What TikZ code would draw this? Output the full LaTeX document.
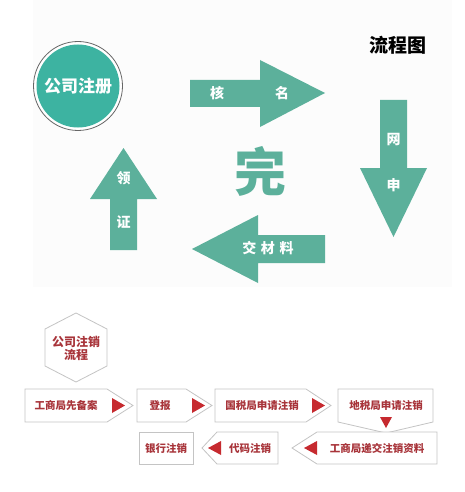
\documentclass[tikz,border=0pt]{standalone}
\usepackage{fontspec}
\newfontfamily\cjk{Noto Sans CJK SC}
\definecolor{teal1}{HTML}{3DB3A1}
\definecolor{teal2}{HTML}{5CB09B}
\definecolor{redtxt}{HTML}{A8343A}
\definecolor{redtri}{HTML}{C62A2F}
\definecolor{boxline}{HTML}{C4C4C4}
\tikzset{
  arr/.style={fill=teal2},
  wtxt/.style={text=white,font=\cjk\bfseries\fontsize{14}{14}\selectfont,inner sep=0pt},
  step box/.style={draw=boxline,line width=0.8pt,fill=white},
  rtxt/.style={text=redtxt,font=\cjk\bfseries\fontsize{10.5}{12}\selectfont,inner sep=0pt},
  tri/.style={fill=redtri}
}
\begin{document}
\begin{tikzpicture}[x=1pt,y=-1pt]
\useasboundingbox (0,0) rectangle (465,492);
\fill[white] (0,0) rectangle (465,492);
\fill[black!1] (33,0) rectangle (452,287);

% registration cycle
\fill[white] (78,86) circle (44.5);
\draw[black!60,line width=0.8pt] (78,86) circle (44.5);
\fill[teal1] (78,86) circle (41.5);
\node[wtxt,font=\cjk\bfseries\fontsize{17}{17}\selectfont] (zc) at (78,86) {公司注册};
\node[font=\cjk\bfseries\fontsize{19}{19}\selectfont] (title) at (398,45) {流程图};

\fill[arr] (190,80) -- (260,80) -- (260,60) -- (325,93) -- (260,127) -- (260,107) -- (190,107) -- cycle;
\node[wtxt] (he) at (217,93) {核};
\node[wtxt] (ming) at (282,93) {名};

\fill[arr] (380,100) -- (407,100) -- (407,168) -- (427,168) -- (393.5,237) -- (360,168) -- (380,168) -- cycle;
\node[wtxt] (wang) at (393.5,140) {网};
\node[wtxt] (shen) at (393.5,185) {申};

\fill[arr] (325,235) -- (258,235) -- (258,215) -- (192,249) -- (258,283) -- (258,263) -- (325,263) -- cycle;
\node[wtxt] (jcl) at (268,248) {交\,\,材\,\,料};

\fill[arr] (110,250) -- (110,199) -- (90,199) -- (123.5,148) -- (157,199) -- (137,199) -- (137,250) -- cycle;
\node[wtxt] (ling) at (123.5,178) {领};
\node[wtxt] (zheng) at (123.5,222) {证};

\node[text=teal2,font=\cjk\bfseries\fontsize{52}{52}\selectfont] (wan) at (260,171) {完};

% deregistration steps
\draw[step box] (76,313) -- (107,329) -- (107,366) -- (76,382) -- (45,366) -- (45,329) -- cycle;
\node[rtxt,align=center,font=\cjk\bfseries\fontsize{12}{13}\selectfont] (zx) at (76,348) {公司注销\\流程};

\draw[step box] (25,389) -- (107,389) -- (133,405.5) -- (107,422) -- (25,422) -- cycle;
\node[rtxt] (s1) at (66,405.5) {工商局先备案};
\fill[tri] (112,398) -- (125,405.5) -- (112,413) -- cycle;

\draw[step box] (137,389) -- (186,389) -- (212,405.5) -- (186,422) -- (137,422) -- cycle;
\node[rtxt] (s2) at (160,405.5) {登报};
\fill[tri] (192,398) -- (205,405.5) -- (192,413) -- cycle;

\draw[step box] (215,389) -- (306,389) -- (331,405.5) -- (306,422) -- (215,422) -- cycle;
\node[rtxt] (s3) at (262,405.5) {国税局申请注销};
\fill[tri] (312,398) -- (325,405.5) -- (312,413) -- cycle;

\draw[step box] (338,389) -- (433,389) -- (433,422) -- (386,433) -- (338,422) -- cycle;
\node[rtxt] (s4) at (386,405.5) {地税局申请注销};
\fill[tri] (380,417) -- (392,417) -- (386,428) -- cycle;

\draw[step box] (437,432) -- (317,432) -- (292,448) -- (317,464) -- (437,464) -- cycle;
\node[rtxt] (s5) at (377,448) {工商局递交注销资料};
\fill[tri] (317,441) -- (304,448) -- (317,455) -- cycle;

\draw[step box] (278,432) -- (217,432) -- (202,448) -- (217,464) -- (278,464) -- cycle;
\node[rtxt] (s6) at (250,448) {代码注销};
\fill[tri] (221,441) -- (208,448) -- (221,455) -- cycle;

\draw[step box] (139,432) rectangle (193,464);
\node[rtxt] (s7) at (166,448) {银行注销};
\end{tikzpicture}
\end{document}
